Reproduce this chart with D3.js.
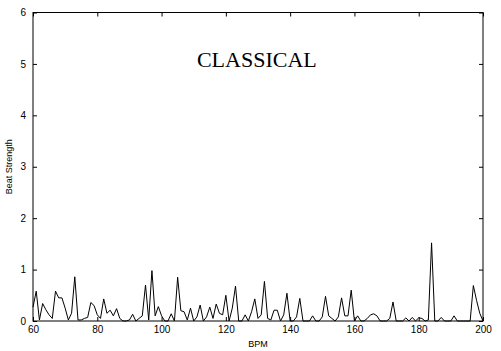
<!DOCTYPE html>
<html>
<head>
<meta charset="utf-8">
<script src="https://cdn.jsdelivr.net/npm/d3@7"></script>
<style>
  body { margin: 0; background: #fff; }
  text { font-family: "Liberation Sans", Arial, sans-serif; }
</style>
</head>
<body>
<div id="chart"></div>
<script>
// beat histogram, one value per BPM from 60 to 200
var bpmStart = 60;
var strength = [
  0.27, 0.58, 0.02, 0.34, 0.22, 0.12, 0.05, 0.58, 0.45, 0.45, // 60-69
  0.25, 0.02, 0.15, 0.86, 0.02, 0.02, 0.05, 0.07, 0.36, 0.30, // 70-79
  0.12, 0.05, 0.43, 0.15, 0.21, 0.10, 0.24, 0.05, 0.00, 0.00, // 80-89
  0.02, 0.13, 0.00, 0.05, 0.10, 0.70, 0.02, 0.98, 0.10, 0.28, // 90-99
  0.10, 0.00, 0.00, 0.14, 0.00, 0.85, 0.20, 0.18, 0.02, 0.25, // 100-109
  0.00, 0.08, 0.31, 0.00, 0.08, 0.27, 0.05, 0.33, 0.15, 0.12, // 110-119
  0.50, 0.00, 0.25, 0.68, 0.00, 0.00, 0.12, 0.00, 0.18, 0.43, // 120-129
  0.05, 0.12, 0.77, 0.05, 0.02, 0.21, 0.21, 0.00, 0.12, 0.54, // 130-139
  0.00, 0.00, 0.08, 0.44, 0.00, 0.00, 0.00, 0.10, 0.00, 0.00, // 140-149
  0.08, 0.48, 0.10, 0.05, 0.00, 0.08, 0.45, 0.10, 0.10, 0.60, // 150-159
  0.00, 0.10, 0.00, 0.00, 0.05, 0.12, 0.14, 0.10, 0.00, 0.00, // 160-169
  0.00, 0.05, 0.37, 0.00, 0.00, 0.00, 0.06, 0.00, 0.07, 0.00, // 170-179
  0.06, 0.05, 0.00, 0.02, 1.52, 0.00, 0.00, 0.07, 0.00, 0.00, // 180-189
  0.00, 0.10, 0.00, 0.00, 0.00, 0.00, 0.00, 0.69, 0.40, 0.15, // 190-199
  0.00                                                        // 200
];
var xTicks = [60, 80, 100, 120, 140, 160, 180, 200];
var yTicks = [0, 1, 2, 3, 4, 5, 6];
var genre = "CLASSICAL";

var svgWidth = 501;
var svgHeight = 351;
var margin = { top: 12.5, right: 18, bottom: 30, left: 33 };
var width = svgWidth - margin.left - margin.right;
var height = svgHeight - margin.top - margin.bottom;

var data = strength.map(function(v, i) {
    return { bpm: bpmStart + i, value: v };
});

var svg = d3.select("#chart")
    .append("svg")
    .attr("width", svgWidth)
    .attr("height", svgHeight);

var chartGroup = svg.append("g")
    .attr("transform", `translate(${margin.left}, ${margin.top})`);

var xScale = d3.scaleLinear().domain([60, 200]).range([0, width]);
var yScale = d3.scaleLinear().domain([0, 6]).range([height, 0]);

function styleAxis(g) {
    g.select(".domain").remove();
    g.selectAll(".tick line").attr("stroke", "#000");
    g.selectAll(".tick text")
        .attr("fill", "#000")
        .style("font-size", "10px");
}

chartGroup.append("g")
    .attr("transform", `translate(0, ${height})`)
    .call(d3.axisBottom(xScale).tickValues(xTicks).tickSize(-4).tickPadding(5).tickFormat(d3.format("d")))
    .call(styleAxis);

chartGroup.append("g")
    .call(d3.axisTop(xScale).tickValues(xTicks).tickSize(-4).tickFormat(""))
    .call(styleAxis);

chartGroup.append("g")
    .call(d3.axisLeft(yScale).tickValues(yTicks).tickSize(-4).tickPadding(7).tickFormat(d3.format("d")))
    .call(styleAxis);

chartGroup.append("g")
    .attr("transform", `translate(${width}, 0)`)
    .call(d3.axisRight(yScale).tickValues(yTicks).tickSize(-4).tickFormat(""))
    .call(styleAxis);

chartGroup.append("rect")
    .attr("width", width)
    .attr("height", height)
    .attr("fill", "none")
    .attr("stroke", "#000")
    .attr("stroke-width", 1);

var line = d3.line()
    .x(d => xScale(d.bpm))
    .y(d => yScale(d.value));

chartGroup.append("path")
    .datum(data)
    .attr("d", line)
    .attr("fill", "none")
    .attr("stroke", "#000")
    .attr("stroke-width", 1);

chartGroup.append("text")
    .attr("x", xScale(111))
    .attr("y", 54.5)
    .style("font-family", "'Liberation Serif', 'Times New Roman', serif")
    .style("font-size", "22px")
    .attr("fill", "#000")
    .text(genre);

chartGroup.append("text")
    .attr("x", width / 2)
    .attr("y", height + 26)
    .attr("text-anchor", "middle")
    .style("font-size", "9px")
    .text("BPM");

chartGroup.append("text")
    .attr("transform", "rotate(-90)")
    .attr("x", -height / 2)
    .attr("y", -21)
    .attr("text-anchor", "middle")
    .style("font-size", "9px")
    .text("Beat Strength");
</script>
</body>
</html>
